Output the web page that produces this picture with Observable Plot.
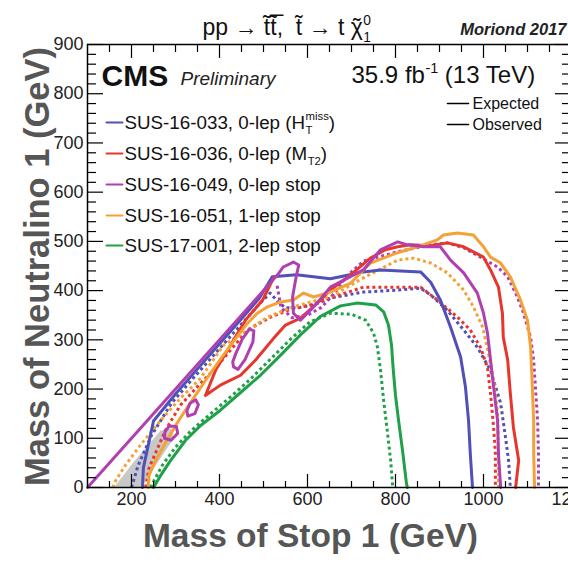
<!DOCTYPE html>
<html><head><meta charset="utf-8">
<script src="https://cdn.jsdelivr.net/npm/d3@7"></script>
<script src="https://cdn.jsdelivr.net/npm/@observablehq/plot@0.6"></script>
<style>html,body{margin:0;padding:0;background:#fff;overflow:hidden}</style>
</head><body>
<script>
// ---------- tick values ----------
const xMajorTicks = [200, 400, 600, 800, 1000, 1200];
const xMinorTicks = [150, 250, 300, 350, 450, 500, 550, 650, 700, 750, 850, 900, 950, 1050, 1100, 1150];
const yMajorTicks = [0, 100, 200, 300, 400, 500, 600, 700, 800, 900];
const yMinorTicks = [20, 40, 60, 80, 120, 140, 160, 180, 220, 240, 260, 280, 320, 340, 360, 380, 420, 440, 460, 480,
  520, 540, 560, 580, 620, 640, 660, 680, 720, 740, 760, 780, 820, 840, 860, 880];

// ---------- legend ----------
const legendLabels = ["SUS-16-033, 0-lep (H_{T}^{miss})", "SUS-16-036, 0-lep (M_{T2})", "SUS-16-049, 0-lep stop",
  "SUS-16-051, 1-lep stop", "SUS-17-001, 2-lep stop"];
const legendColors = ["#5050b8", "#e8362d", "#b040b0", "#f4a236", "#21a04a"];

// ---------- contours [mStop, mLSP] ----------
const sus16033Obs = [[225,0],[227,40],[250,135],[300,190],[350,241],[400,292],[450,343],[490,384],[520,428],[575,432],[652,424],[727,438],[766,442],[857,438],[880,417],[902,381],[925,326],[948,265],[959,204],[966,136],[970,69],[975,0]];
const sus16033Exp = [[200,0],[215,45],[245,105],[290,170],[340,222],[400,282],[450,332],[490,372],[515,395],[532,378],[550,365],[577,365],[614,371],[652,385],[727,397],[805,401],[857,405],[880,391],[918,360],[955,320],[986,285],[1016,238],[1039,171],[1050,102],[1057,55],[1061,0]];
const sus16036Obs = [[523,426],[498,381],[459,340],[425,289],[391,238],[368,187],[402,208],[448,228],[482,259],[523,303],[550,330],[584,344],[618,371],[652,401],[698,432],[743,466],[777,483],[805,489],[834,493],[880,491],[918,497],[955,489],[1000,468],[1016,442],[1034,407],[1043,354],[1045,305],[1055,259],[1061,191],[1068,122],[1080,55],[1073,0]];
const sus16036Exp = [[232,0],[240,40],[277,116],[311,167],[350,205],[386,238],[425,279],[464,320],[516,346],[561,362],[607,371],[652,385],[727,407],[805,407],[857,407],[895,381],[941,346],[970,320],[993,285],[1009,244],[1016,191],[1023,122],[1027,69],[1027,0]];
const sus16049Obs = [[100,0],[532,432],[545,448],[568,458],[580,452],[573,422],[566,387],[568,354],[584,340],[614,367],[652,407],[727,442],[766,483],[805,499],[827,493],[864,489],[902,489],[925,462],[955,436],[986,395],[1000,354],[1009,314],[1016,259],[1023,204],[1032,136],[1034,69],[1039,0]];
const sus16049Island1 = [[432,245],[442,240],[458,260],[476,296],[478,318],[468,322],[452,302],[437,272],[430,255],[432,245]];
const sus16049Island2 = [[275,100],[290,96],[305,110],[302,124],[286,125],[276,113],[275,100]];
const sus16049Island3 = [[328,145],[344,150],[352,168],[346,178],[333,171],[326,156],[328,145]];
const sus16049Exp = [[531,410],[540,365],[565,345],[600,350],[630,365],[652,385],[690,430],[727,460],[805,479],[880,493],[918,497],[955,487],[993,468],[1032,448],[1055,428],[1077,387],[1091,354],[1107,305],[1114,259],[1118,204],[1123,136],[1125,69],[1125,0]];
const sus16051Obs = [[238,0],[240,25],[255,55],[280,95],[310,140],[340,180],[370,220],[400,258],[430,295],[460,330],[486,354],[509,367],[539,377],[568,381],[591,395],[614,387],[652,397],[698,415],[743,456],[805,477],[850,489],[895,503],[909,513],[941,517],[977,513],[1000,489],[1016,468],[1039,456],[1061,428],[1084,381],[1100,340],[1107,285],[1111,204],[1114,136],[1114,69],[1116,0]];
const sus16051Exp = [[157,0],[164,14],[186,45],[220,86],[266,136],[311,181],[357,222],[409,289],[464,320],[509,346],[561,365],[607,377],[652,387],[727,426],[805,462],[841,466],[880,456],[918,436],[955,401],[977,367],[998,326],[1011,273],[1023,218],[1032,151],[1034,69],[1034,0]];
const sus17001Obs = [[250,0],[266,24],[289,55],[323,96],[357,126],[402,157],[448,193],[493,228],[539,269],[584,310],[630,348],[675,369],[714,375],[755,371],[773,357],[784,330],[791,289],[795,238],[800,187],[807,136],[816,75],[825,8],[827,0]];
const sus17001Exp = [[243,0],[255,20],[270,45],[300,82],[335,115],[380,150],[425,184],[470,220],[515,260],[560,300],[605,336],[652,354],[700,352],[732,340],[750,314],[759,285],[766,238],[773,177],[782,110],[789,55],[793,8],[794,0]];
const grayBand = [[160,0],[222,0],[296,100],[290,120],[266,116],[205,52],[160,0]];

// ---------- build ----------
const W = 568, H = 562, mL = 87, mT = 44, mR = -3, mB = 75;
const FW = W - mL - mR, FH = H - mT - mB;
const [cBlue, cRed, cMag, cOra, cGre] = legendColors;

const expected = [[sus16033Exp, cBlue], [sus16036Exp, cRed], [sus17001Exp, cGre], [sus16051Exp, cOra], [sus16049Exp, cMag]];
const observed = [[sus16033Obs, cBlue], [sus16036Obs, cRed], [sus17001Obs, cGre], [sus16051Obs, cOra],
  [sus16049Obs, cMag], [sus16049Island1, cMag], [sus16049Island2, cMag], [sus16049Island3, cMag]];

const X = d => d[0], Y = d => d[1];
const lineShape = {draw(context, l) { context.moveTo(0, 0); context.lineTo(0, -l); }};
const txt = (s, o) => Plot.text([s], {frameAnchor: "top-left", text: d => d, lineAnchor: "middle", ...o});

const marks = [
  Plot.line(grayBand, {x: X, y: Y, fill: "#c8c8c8", stroke: "none"}),
  ...expected.map(([d, c]) => Plot.line(d, {x: X, y: Y, stroke: c, strokeWidth: 3, strokeDasharray: "3,3", strokeLinecap: "butt"})),
  ...observed.map(([d, c]) => Plot.line(d, {x: X, y: Y, stroke: c, strokeWidth: 3, strokeLinejoin: "round"})),
  Plot.frame({stroke: "black", strokeWidth: 1.5}),
  // ticks inward
  Plot.tickX(xMajorTicks, {x: d => d, insetTop: FH - 13, stroke: "black", strokeWidth: 1.2}),
  Plot.tickX(xMinorTicks, {x: d => d, insetTop: FH - 6, stroke: "black", strokeWidth: 1.2}),
  Plot.tickX(xMajorTicks, {x: d => d, insetBottom: FH - 14, stroke: "black", strokeWidth: 1.2}),
  Plot.tickX(xMinorTicks, {x: d => d, insetBottom: FH - 8, stroke: "black", strokeWidth: 1.2}),
  Plot.tickY(yMajorTicks, {y: d => d, insetRight: FW - 16, stroke: "black", strokeWidth: 1.2}),
  Plot.tickY(yMinorTicks, {y: d => d, insetRight: FW - 9, stroke: "black", strokeWidth: 1.2}),
  Plot.tickY(yMajorTicks, {y: d => d, insetLeft: FW - 16, stroke: "black", strokeWidth: 1.2}),
  Plot.tickY(yMinorTicks, {y: d => d, insetLeft: FW - 9, stroke: "black", strokeWidth: 1.2}),
  Plot.axisX({ticks: xMajorTicks, tickSize: 0, tickPadding: 5, tickFormat: d => String(d), fontSize: 18, fill: "#222", label: null}),
  Plot.axisY({ticks: yMajorTicks, tickSize: 0, tickPadding: 4, tickFormat: d => String(d), fontSize: 18, fill: "#222", label: null}),
  // axis titles
  txt("Mass of Stop 1 (GeV)", {dx: 223, dy: 492, textAnchor: "middle", fontSize: 33.5, fontWeight: "bold", fill: "#565656"}),
  txt("Mass of Neutralino 1 (GeV)", {dx: -50, dy: 222, rotate: -90, textAnchor: "middle", fontSize: 34.5, fontWeight: "bold", fill: "#565656"}),
  // header
  txt("pp \u2192 t\u0303t\u0303\u0305,  t\u0303 \u2192 t ~{\u03c7}^{0}_{1}", {dx: 115, dy: -16.4, textAnchor: "start", fontSize: 23, fill: "#111"}),
  txt("Moriond 2017", {dx: 479, dy: -14.3, textAnchor: "end", fontSize: 16.5, fontStyle: "italic", fontWeight: "bold", fill: "#222"}),
  txt("CMS", {dx: 14, dy: 31.4, textAnchor: "start", fontSize: 30, fontWeight: "bold", fill: "#111"}),
  txt("Preliminary", {dx: 93, dy: 34.9, textAnchor: "start", fontSize: 19, fontStyle: "italic", fill: "#222"}),
  txt("35.9 fb^{-1} (13 TeV)", {dx: 264, dy: 31.3, textAnchor: "start", fontSize: 24, fill: "#111"}),
  txt("Expected", {dx: 385, dy: 59, textAnchor: "start", fontSize: 16, fill: "#111"}),
  txt("Observed", {dx: 385, dy: 80, textAnchor: "start", fontSize: 16, fill: "#111"}),
  Plot.vector([0], {frameAnchor: "top-left", dx: 360, dy: 59, length: 21, rotate: 90, anchor: "start", shape: lineShape, stroke: "black", strokeWidth: 1.6}),
  Plot.vector([0], {frameAnchor: "top-left", dx: 360, dy: 80, length: 21, rotate: 90, anchor: "start", shape: lineShape, stroke: "black", strokeWidth: 1.6}),
  ...legendLabels.flatMap((lab, i) => {
    const dy = [78, 109, 140, 171, 201][i];
    return [
      Plot.vector([0], {frameAnchor: "top-left", dx: 19, dy, length: 16, rotate: 90, anchor: "start", shape: lineShape, stroke: legendColors[i], strokeWidth: 2}),
      txt(lab, {dx: 37, dy, textAnchor: "start", fontSize: 18.8, fill: "#111"})
    ];
  })
];

const chart = Plot.plot({
  width: W, height: H,
  marginLeft: mL, marginTop: mT, marginRight: mR, marginBottom: mB,
  x: {domain: [100, 1200]},
  y: {domain: [0, 900]},
  style: {fontFamily: "'Liberation Sans', Arial, Helvetica, sans-serif", background: "white", overflow: "hidden"},
  marks
});
document.body.append(chart);

// rich text: _{sub}, ^{sup} (consecutive scripts stacked), ~{x} (tilde accent over x)
const NS = "http://www.w3.org/2000/svg";
const re = /([_^])\{([^}]*)\}|~\{([^}]*)\}|([^_^~]+)/g;
chart.querySelectorAll("text").forEach(t => {
  const s = t.textContent;
  if (!/[_^~]\{/.test(s)) return;
  const fs = parseFloat(getComputedStyle(t).fontSize) || 16;
  t.textContent = "";
  let cur = 0, prev = null, pend = 0;
  const add = (str, target, small, dx) => {
    const ts = document.createElementNS(NS, "tspan");
    ts.textContent = str;
    if (small) ts.setAttribute("font-size", (0.6 * fs).toFixed(1));
    ts.setAttribute("dy", (target - cur).toFixed(2));
    cur = target;
    if (dx + pend) ts.setAttribute("dx", (dx + pend).toFixed(2));
    pend = 0;
    t.appendChild(ts);
    return ts;
  };
  for (const m of s.matchAll(re)) {
    if (m[4] !== undefined) { add(m[4], 0, false, 0); prev = null; }
    else if (m[3] !== undefined) {
      const b = add(m[3], 0, false, 0);
      const wB = b.getComputedTextLength();
      const a = add("\u02DC", 0, false, 0);
      const wA = a.getComputedTextLength();
      a.setAttribute("dx", (-(wB + wA) / 2).toFixed(2));
      pend = (wB - wA) / 2;
      prev = null;
    } else {
      const target = m[1] === "_" ? 0.3 * fs : -0.45 * fs;
      const dx = prev ? -prev.getComputedTextLength() : 0.5;
      const ts = add(m[2], target, true, dx);
      prev = prev ? null : ts;
    }
  }
});
</script>
</body></html>
